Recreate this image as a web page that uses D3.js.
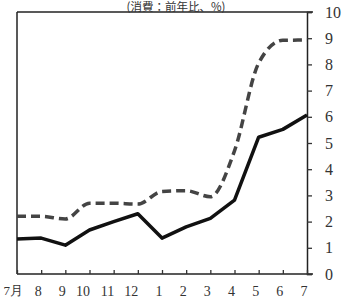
<!DOCTYPE html>
<html><head><meta charset="utf-8">
<script src="https://cdn.jsdelivr.net/npm/d3@7"></script>
<style>body{margin:0;background:#fff}svg{display:block}</style>
</head><body><svg id="c" width="347" height="305"></svg>
<script>
const months = ["7月","8","9","10","11","12","1","2","3","4","5","6","7"];
const solidSeries = [1.34,1.37,1.1,1.68,2.0,2.3,1.37,1.8,2.12,2.82,5.22,5.52,6.07];
const dashedSeries = [2.2,2.2,2.1,2.7,2.7,2.67,3.15,3.18,2.95,4.7,8.05,8.92,8.93];
const yTicks = [0,1,2,3,4,5,6,7,8,9,10];
const title = "(消費：前年比、%)";

const svg = d3.select("#c");
const L = 17, R = 307, T = 12, B = 274;
const x = d3.scalePoint().domain(d3.range(months.length)).range([L, R]);
const y = d3.scaleLinear().domain([0, 10]).range([B, T]);
const font = "'Liberation Serif', 'DejaVu Serif', serif";

// frame
svg.append("line").attr("x1", L).attr("x2", 313).attr("y1", T).attr("y2", T).attr("stroke", "#222").attr("stroke-width", 1.5);
svg.append("line").attr("x1", L).attr("x2", 313).attr("y1", B).attr("y2", B).attr("stroke", "#222").attr("stroke-width", 1.5);
svg.append("line").attr("x1", L).attr("x2", L).attr("y1", T).attr("y2", B).attr("stroke", "#222").attr("stroke-width", 1.5);

// right axis
const ya = svg.append("g").attr("transform", `translate(${R},0)`)
  .call(d3.axisRight(y).tickValues(yTicks).tickSize(5).tickPadding(13).tickFormat(d3.format("d")));
ya.select(".domain").attr("stroke", "#222").attr("stroke-width", 1.5);
ya.selectAll(".tick line").attr("stroke", "#333").attr("stroke-width", 1.3);
ya.selectAll("text").attr("font-family", font).attr("font-size", 16).attr("fill", "#333");

// bottom axis
const xa = svg.append("g").attr("transform", `translate(0,${B})`)
  .call(d3.axisBottom(x).tickSize(-4).tickPadding(12).tickFormat(i => months[i]));
xa.select(".domain").remove();
xa.selectAll(".tick line").attr("stroke", "#333").attr("stroke-width", 1.3);
xa.selectAll("text").attr("font-family", font).attr("font-size", 14).attr("fill", "#333")
  .attr("text-anchor", "end");
xa.selectAll("text").filter(i => i === 0).attr("text-anchor", "start").attr("dx", -14).attr("font-size", 13);

// title (sits just above the frame)
svg.append("text").attr("x", 176).attr("y", 10.5).attr("text-anchor", "middle")
  .attr("font-family", "'Noto Sans CJK JP', sans-serif").attr("font-size", 11.5).attr("fill", "#333")
  .text(title);

// lines
const lineStraight = d3.line().x((d, i) => x(i)).y(d => y(d));
const lineSmooth = d3.line().x((d, i) => x(i)).y(d => y(d)).curve(d3.curveMonotoneX);
svg.append("path").datum(dashedSeries).attr("d", lineSmooth).attr("fill", "none")
  .attr("stroke", "#444").attr("stroke-width", 3.5).attr("stroke-dasharray", "9,5");
svg.append("path").datum(solidSeries).attr("d", lineStraight).attr("fill", "none")
  .attr("stroke", "#111").attr("stroke-width", 3.5).attr("stroke-linejoin", "round");
</script></body></html>
